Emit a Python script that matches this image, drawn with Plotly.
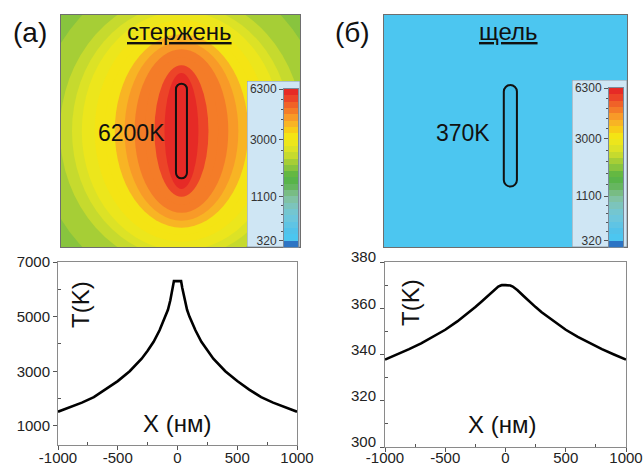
import numpy as np
import plotly.graph_objects as go

W, H = 643, 466

# ---------------- data ----------------
# temperature profiles through the centre, X in nm
profile_x = [-1000, -900, -800, -700, -600, -500, -400, -300, -250, -200, -150, -100, -80, -60, -40, -30,
             0, 30, 40, 60, 80, 100, 150, 200, 250, 300, 400, 500, 600, 700, 800, 900, 1000]
rod_T = [1520, 1680, 1850, 2050, 2330, 2640, 3000, 3460, 3750, 4080, 4500, 5000, 5250, 5600, 6050, 6300,
         6300, 6300, 6050, 5600, 5250, 5000, 4500, 4080, 3750, 3460, 3000, 2640, 2330, 2050, 1850, 1680, 1520]
slit_T = [337.8, 340.0, 342.3, 344.8, 347.6, 350.7, 354.3, 358.3, 360.5, 362.8, 365.3, 367.8, 368.7, 369.4, 369.85, 370,
          370, 370, 369.85, 369.4, 368.7, 367.8, 365.3, 362.8, 360.5, 358.3, 354.3, 350.7, 347.6, 344.8, 342.3, 340.0, 337.8]

# temperature map of the rod: isotherm levels (K) and their half-sizes (nm)
iso_T = [2156, 2367, 2578, 2789, 3000, 3412, 3825, 4238, 4650, 5062, 5475, 5888]
iso_half_x = [604, 508, 458, 417, 363, 321, 279, 238, 196, 154, 113, 71]
iso_half_y = [667, 571, 530, 500, 463, 434, 404, 375, 342, 309, 275, 242]
rod_map_min_T = 2097          # coldest corner of the rod map
slit_map_T = [345, 370]       # the slit map stays within this range

# colour bar: temperature -> band position (non-linear scale of the bar)
cbar_key_T = [210, 320, 1100, 3000, 6300]
cbar_key_pos = [0, 1, 8, 17, 25]
cbar_ticks_T = [320, 1100, 3000, 6300]
cbar_ticktext = ["320", "1100", "3000", "6300"]
band_colors = ["#2c74c4", "#4cc6f0", "#52c2ea", "#5fc4e4", "#6cc6dc", "#74c6d0", "#7cc4bc", "#80c2a4",
               "#78bc84", "#66b660", "#58b44a", "#64b842", "#88c43e", "#a6ce36", "#c6da2e", "#dce226",
               "#ece61c", "#f4e414", "#f8cc18", "#f8b424", "#f89a28", "#f47c28", "#f06228", "#ec4428",
               "#e62a26"]

# rod / slit geometry (nm): centre x, centre y, half-length, half-width
rod_geom = (4, 0, 198, 23)
slit_geom = (20, -20, 212, 27)

# ---------------- helpers ----------------
NB = len(band_colors)
cscale = []
for k, c in enumerate(band_colors):
    cscale.append([k / NB, c])
    cscale.append([(k + 1) / NB, c])


def to_pos(t):
    return np.interp(np.asarray(t, dtype=float), cbar_key_T, cbar_key_pos)


def band_color(t):
    return band_colors[int(min(NB - 1, np.floor(to_pos(t) + 1e-6)))]


def px(x):
    return x / W


def py(y):
    return 1 - y / H


def stadium(cx, cy, L, w):
    k = 0.5523 * w
    return (f"M{cx-w},{cy+L-w} L{cx-w},{cy-L+w} "
            f"C{cx-w},{cy-L+w-k} {cx-k},{cy-L} {cx},{cy-L} "
            f"C{cx+k},{cy-L} {cx+w},{cy-L+w-k} {cx+w},{cy-L+w} "
            f"L{cx+w},{cy+L-w} "
            f"C{cx+w},{cy+L-w+k} {cx+k},{cy+L} {cx},{cy+L} "
            f"C{cx-k},{cy+L} {cx-w},{cy+L-w+k} {cx-w},{cy+L-w} Z")


FONT = "Liberation Sans, Arial, sans-serif"
fig = go.Figure()

# colour bar strips
centers = np.arange(NB) + 0.5
for ax in ("4", "6"):
    fig.add_trace(go.Heatmap(
        x=[0], y=centers, z=[[c] for c in centers], xaxis="x" + ax, yaxis="y" + ax,
        colorscale=cscale, zmin=0, zmax=NB, showscale=False, hoverinfo="skip"))

# profiles
for ax, vals in (("7", rod_T), ("8", slit_T)):
    fig.add_trace(go.Scatter(x=profile_x, y=vals, mode="lines", xaxis="x" + ax, yaxis="y" + ax,
                             line=dict(color="black", width=2.6), hoverinfo="skip", showlegend=False))

map_top, map_bot = 15, 247
XR, YR = 500, 485
blank = dict(showticklabels=False, ticks="", showgrid=False, zeroline=False, automargin=False)
frame = dict(showline=True, linecolor="#6e6e6e", linewidth=1, mirror=True)

layout = dict(
    width=W, height=H, margin=dict(l=0, r=0, t=0, b=0, autoexpand=False),
    paper_bgcolor="white", plot_bgcolor="white", showlegend=False,
    font=dict(family=FONT, color="#222"),
)
layout["xaxis"] = dict(domain=[px(61), px(300)], range=[-XR, XR], anchor="y", **blank, **frame)
layout["yaxis"] = dict(domain=[py(map_bot), py(map_top)], range=[-YR, YR], anchor="x", **blank, **frame)
layout["xaxis2"] = dict(domain=[px(384), px(627)], range=[-XR, XR], anchor="y2", **blank, **frame)
layout["yaxis2"] = dict(domain=[py(map_bot), py(map_top)], range=[-YR, YR], anchor="x2", **blank, **frame)
layout["xaxis3"] = dict(domain=[px(247), px(300)], range=[0, 1], anchor="y3", visible=False, automargin=False)
layout["yaxis3"] = dict(domain=[py(map_bot), py(81)], range=[0, 1], anchor="x3", visible=False, automargin=False)
layout["xaxis5"] = dict(domain=[px(572), px(627)], range=[0, 1], anchor="y5", visible=False, automargin=False)
layout["yaxis5"] = dict(domain=[py(map_bot), py(80)], range=[0, 1], anchor="x5", visible=False, automargin=False)

tickpos = list(to_pos(cbar_ticks_T))
minor_pos = []
for a, b in zip(tickpos[:-1], tickpos[1:]):
    minor_pos += list(np.linspace(a, b, 6)[1:-1])
for n, x0, x1, ytop in (("4", 284, 298, 89), ("6", 609, 623, 88)):
    layout["xaxis" + n] = dict(domain=[px(x0), px(x1)], range=[-0.5, 0.5], anchor="y" + n, **blank,
                               showline=True, linecolor="#7a8a9a", linewidth=1, mirror=True)
    layout["yaxis" + n] = dict(domain=[py(map_bot), py(ytop)], range=[0, NB], anchor="x" + n,
                               showline=True, linecolor="#7a8a9a", linewidth=1, mirror=True, automargin=False,
                               showgrid=False, zeroline=False, ticks="outside", ticklen=4, tickcolor="#555",
                               tickvals=tickpos, ticktext=cbar_ticktext, tickfont=dict(size=12, color="#333"),
                               minor=dict(tickvals=minor_pos, ticks="outside", ticklen=2, tickcolor="#555"))

line_ax = dict(showline=True, linecolor="#8a8a8a", linewidth=1, mirror=True, ticks="outside", ticklen=4,
               tickcolor="#555", tickfont=dict(size=15, color="#222"), showgrid=False, zeroline=False,
               automargin=False)
xt = [-1000, -500, 0, 500, 1000]
xtt = ["-1000", "-500", "0", "500", "1000"]
xminor = dict(tickvals=[-750, -250, 250, 750], ticks="inside", ticklen=3, tickcolor="#555")
layout["xaxis7"] = dict(domain=[px(58), px(297)], range=[-1000, 1000], anchor="y7", tickvals=xt, ticktext=xtt,
                        minor=xminor, ticklabelstandoff=-5, **line_ax)
layout["yaxis7"] = dict(domain=[py(445), py(262)], range=[300, 7000], anchor="x7",
                        tickvals=[1000, 3000, 5000, 7000],
                        minor=dict(tickvals=[2000, 4000, 6000], ticks="inside", ticklen=3, tickcolor="#555"),
                        **line_ax)
layout["xaxis8"] = dict(domain=[px(385), px(626)], range=[-1000, 1000], anchor="y8", tickvals=xt, ticktext=xtt,
                        minor=xminor, ticklabelstandoff=-7, **line_ax)
layout["yaxis8"] = dict(domain=[py(447), py(262)], range=[300, 380], anchor="x8",
                        tickvals=[300, 320, 340, 360, 380], ticklabelstandoff=1, ticklabelshift=-5,
                        minor=dict(tickvals=[310, 330, 350, 370], ticks="inside", ticklen=3, tickcolor="#555"),
                        **line_ax)
fig.update_layout(**layout)

# ---- map bands (isotherms) as filled ellipses, outermost first ----
shapes = [dict(type="rect", xref="x", yref="y", x0=-XR, x1=XR, y0=-YR, y1=YR, layer="below",
               fillcolor=band_color(rod_map_min_T), line=dict(width=0))]
for t, hx, hy in zip(iso_T, iso_half_x, iso_half_y):
    shapes.append(dict(type="circle", xref="x", yref="y", x0=rod_geom[0] - hx, x1=rod_geom[0] + hx,
                       y0=rod_geom[1] - hy, y1=rod_geom[1] + hy, layer="below",
                       fillcolor=band_color(t), line=dict(width=0)))
shapes.append(dict(type="rect", xref="x2", yref="y2", x0=-XR, x1=XR, y0=-YR, y1=YR, layer="below",
                   fillcolor=band_color(min(slit_map_T)), line=dict(width=0)))
for n in ("3", "5"):
    shapes.append(dict(type="rect", xref="x" + n, yref="y" + n, x0=0, x1=1, y0=0, y1=1, layer="below",
                       fillcolor="#cfe6f4", line=dict(color="#8a9aa8", width=1)))
shapes.append(dict(type="path", xref="x", yref="y", path=stadium(*rod_geom), fillcolor=band_color(max(rod_T)),
                   line=dict(color="#111", width=2)))
shapes.append(dict(type="path", xref="x2", yref="y2", path=stadium(*slit_geom), fillcolor="#42bdea",
                   line=dict(color="#111", width=2)))
fig.update_layout(shapes=shapes)

ann = []


def add_text(text, x, y, size, angle=0):
    ann.append(dict(text=text, x=px(x), y=py(y), xref="paper", yref="paper", showarrow=False,
                    xanchor="center", yanchor="middle", textangle=angle,
                    font=dict(family=FONT, size=size, color="#111")))


add_text("(а)", 30, 32, 28)
add_text("(б)", 352, 32, 28)
add_text("<u>стержень</u>", 179, 31, 24)
add_text("<u>щель</u>", 508, 31, 24)
add_text("6200K", 131, 133, 23)
add_text("370K", 463, 133, 23)
add_text("T(K)", 80, 305, 24, -90)
add_text("X (нм)", 177, 423, 24)
add_text("T(K)", 410, 303, 24, -90)
add_text("X (нм)", 502, 424, 24)
fig.update_layout(annotations=ann)

fig.write_html("out.html", config={"displayModeBar": False},
               post_script="document.body.style.margin='0';document.body.style.overflow='hidden';")
